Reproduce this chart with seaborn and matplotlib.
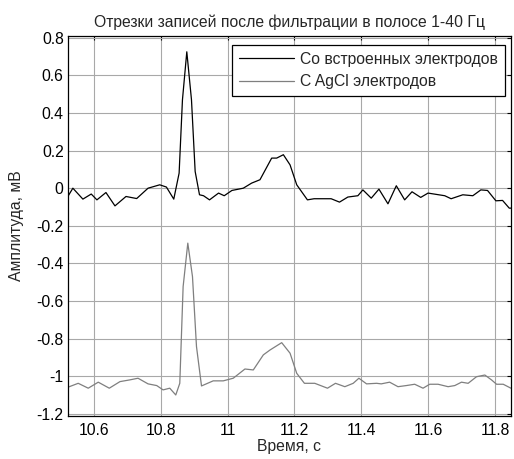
import numpy as np
import pandas as pd
import matplotlib
matplotlib.use("Agg")
import matplotlib.pyplot as plt
import seaborn as sns

t_upper = [10.522, 10.537, 10.567, 10.592, 10.609, 10.636, 10.663, 10.696, 10.728,
           10.762, 10.797, 10.817, 10.839, 10.855, 10.865, 10.878, 10.892, 10.903, 10.916, 10.928,
           10.946, 10.973, 10.990, 11.013, 11.047, 11.072, 11.097, 11.132, 11.147,
           11.167, 11.187, 11.207, 11.239, 11.259, 11.310, 11.335, 11.360, 11.390,
           11.405, 11.430, 11.453, 11.480, 11.505, 11.530, 11.552, 11.578, 11.600,
           11.650, 11.669, 11.704, 11.734, 11.758, 11.778, 11.803, 11.823, 11.843, 11.848]
v_upper = [-0.044, 0.000, -0.058, -0.031, -0.062, -0.023, -0.094, -0.044, -0.055,
           0.000, 0.018, 0.006, -0.058, 0.080, 0.470, 0.725, 0.470, 0.089, -0.035, -0.040,
           -0.062, -0.026, -0.040, -0.012, 0.000, 0.027, 0.045, 0.160, 0.160,
           0.178, 0.124, 0.018, -0.062, -0.056, -0.056, -0.074, -0.047, -0.040,
           -0.009, -0.053, -0.005, -0.083, 0.013, -0.062, -0.019, -0.049, -0.026,
           -0.040, -0.056, -0.035, -0.040, -0.009, -0.012, -0.067, -0.065, -0.106, -0.106]

t_lower = [10.522, 10.553, 10.583, 10.613, 10.646, 10.678, 10.707, 10.732, 10.762,
           10.788, 10.807, 10.827, 10.845, 10.857, 10.867, 10.881, 10.895, 10.907,
           10.922, 10.957, 10.987, 11.017, 11.052, 11.077, 11.107, 11.127, 11.162,
           11.187, 11.207, 11.230, 11.261, 11.299, 11.323, 11.351, 11.376, 11.393,
           11.416, 11.446, 11.460, 11.485, 11.510, 11.535, 11.560, 11.585, 11.605,
           11.630, 11.660, 11.680, 11.700, 11.720, 11.745, 11.770, 11.790, 11.805,
           11.825, 11.848]
v_lower = [-1.058, -1.037, -1.063, -1.031, -1.063, -1.028, -1.019, -1.010, -1.040,
           -1.049, -1.072, -1.063, -1.099, -1.037, -0.523, -0.292, -0.470, -0.842,
           -1.051, -1.024, -1.024, -1.010, -0.961, -0.966, -0.886, -0.860, -0.821,
           -0.877, -0.984, -1.037, -1.037, -1.063, -1.037, -1.055, -1.037, -1.010,
           -1.040, -1.037, -1.040, -1.031, -1.055, -1.049, -1.042, -1.063, -1.042,
           -1.042, -1.055, -1.049, -1.031, -1.037, -1.002, -0.993, -1.019, -1.042,
           -1.042, -1.063]

labels = ["Со встроенных электродов", "С AgCl электродов"]
x_ticks = [10.6, 10.8, 11.0, 11.2, 11.4, 11.6, 11.8]
x_ticklabels = ["10.6", "10.8", "11", "11.2", "11.4", "11.6", "11.8"]
y_ticks = [-1.2, -1.0, -0.8, -0.6, -0.4, -0.2, 0.0, 0.2, 0.4, 0.6, 0.8]
y_ticklabels = ["-1.2", "-1", "-0.8", "-0.6", "-0.4", "-0.2", "0", "0.2", "0.4", "0.6", "0.8"]

df = pd.concat([
    pd.DataFrame({"t": t_upper, "v": v_upper, "s": labels[0]}),
    pd.DataFrame({"t": t_lower, "v": v_lower, "s": labels[1]}),
])

sns.set_style("white")
plt.rcParams["font.family"] = ["Liberation Sans", "DejaVu Sans"]

FS = 11.3

fig = plt.figure(figsize=(5.14, 4.59), dpi=100)
ax = fig.add_axes([0.132, 0.094, 0.862, 0.828])

sns.lineplot(data=df, x="t", y="v", hue="s", palette=["#000000", "#7f7f7f"],
             sort=False, estimator=None, linewidth=0.9, ax=ax)

ax.set_xlim(10.522, 11.848)
ax.set_ylim(-1.21, 0.81)
ax.set_xticks(x_ticks)
ax.set_xticklabels(x_ticklabels)
ax.set_yticks(y_ticks)
ax.set_yticklabels(y_ticklabels)
ax.grid(True, color="#a8a8a8", linewidth=0.8, linestyle="-")
ax.tick_params(direction="in", length=3, width=0.8, labelsize=FS, colors="black",
               top=True, right=True)
ax.tick_params(axis="x", pad=5)
ax.tick_params(axis="y", pad=3)
for sp in ax.spines.values():
    sp.set_visible(True)
    sp.set_color("black")
    sp.set_linewidth(0.9)

ax.set_title("Отрезки записей после фильтрации в полосе 1-40 Гц", fontsize=FS, pad=6)
ax.set_xlabel("Время, с", fontsize=FS, labelpad=1)
ax.set_ylabel("Амплитуда, мВ", fontsize=FS)
ax.yaxis.set_label_coords(-0.100, 0.5)

leg = ax.legend(loc="upper right", bbox_to_anchor=(0.9865, 0.976), borderaxespad=0,
                fontsize=FS, frameon=True, fancybox=False,
                edgecolor="black", framealpha=1,
                handlelength=3.5, handletextpad=0.4, borderpad=0.45, labelspacing=0.45)
leg.get_frame().set_linewidth(0.9)

fig.savefig("out.png", dpi=100)
